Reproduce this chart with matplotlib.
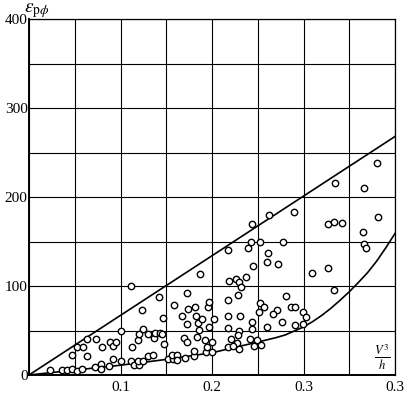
import numpy as np
import matplotlib
matplotlib.use("Agg")
import matplotlib.pyplot as plt
from matplotlib.ticker import MultipleLocator, FixedLocator

plt.rcParams['font.family'] = ['Liberation Serif', 'DejaVu Serif']
plt.rcParams['mathtext.fontset'] = 'stix'

# measured points (V^3/h, eps)
pts_x = [0.023, 0.036, 0.042, 0.047, 0.053, 0.058, 0.072, 0.079, 0.079, 0.087,
         0.047, 0.053, 0.059, 0.063, 0.063, 0.073, 0.080, 0.088, 0.092, 0.095,
         0.092, 0.101, 0.101, 0.111, 0.112, 0.113, 0.115, 0.120, 0.119, 0.125,
         0.130, 0.136, 0.119, 0.120, 0.125, 0.130, 0.137, 0.138, 0.143, 0.145,
         0.147, 0.124, 0.142, 0.146, 0.152, 0.157, 0.156, 0.162, 0.162, 0.170,
         0.180, 0.180, 0.193, 0.200, 0.195, 0.169, 0.173, 0.184, 0.192, 0.200,
         0.186, 0.197, 0.173, 0.185, 0.167, 0.182, 0.189, 0.202, 0.159, 0.174,
         0.181, 0.196, 0.197, 0.173, 0.187,
         0.218, 0.239, 0.243, 0.252, 0.244, 0.262, 0.290, 0.278, 0.261, 0.260,
         0.272, 0.245, 0.237, 0.219, 0.226, 0.230, 0.232, 0.228, 0.217, 0.281,
         0.253, 0.257, 0.251, 0.271, 0.267, 0.286, 0.291, 0.299, 0.217, 0.231,
         0.244, 0.277, 0.291, 0.299, 0.218, 0.260, 0.244, 0.229, 0.228, 0.221,
         0.242, 0.249, 0.227, 0.218, 0.223, 0.229, 0.246, 0.254,
         0.380, 0.334, 0.366, 0.381, 0.327, 0.333, 0.342, 0.365, 0.366, 0.368,
         0.309, 0.327, 0.333, 0.303]
pts_y = [6, 6, 6, 7, 4, 7, 9, 12, 7, 10,
         23, 31, 31, 40, 21, 40, 31, 37, 33, 37,
         18, 16, 50, 100, 16, 32, 11, 11, 16, 16,
         21, 23, 39, 46, 52, 46, 42, 47, 47, 46,
         35, 73, 88, 64, 18, 18, 22, 22, 17, 19,
         21, 27, 26, 26, 31, 42, 37, 43, 39, 37,
         51, 54, 57, 58, 66, 66, 63, 63, 79, 74,
         76, 76, 82, 92, 114,
         141, 143, 149, 150, 170, 180, 183, 149, 137, 127,
         125, 122, 110, 106, 108, 104, 99, 90, 84, 89,
         81, 76, 71, 73, 69, 76, 76, 71, 66, 66,
         60, 59, 56, 57, 53, 54, 52, 50, 45, 41,
         41, 39, 36, 31, 33, 29, 33, 34,
         238, 216, 210, 178, 170, 172, 171, 161, 147, 143,
         115, 120, 96, 65]

# upper bound line
upper_x = [0.0, 0.4]
upper_y = [0, 268]

# lower bound curve
lower_x = [0, 0.05, 0.1, 0.15, 0.2, 0.25, 0.27, 0.28, 0.29, 0.3, 0.31, 0.32,
           0.33, 0.34, 0.35, 0.36, 0.37, 0.38, 0.39, 0.4]
lower_y = [0, 5.5, 11, 17.5, 25, 37, 42, 45, 49.5, 54, 60, 67,
           75, 84, 93.5, 104, 115, 128, 143, 159]

xticks = [0.1, 0.2, 0.3, 0.4]
xtick_labels = ['0.1', '0.2', '0.3', '0.3']
yticks = [0, 100, 200, 300, 400]

fig = plt.figure(figsize=(4.11, 3.93), dpi=100)
ax = fig.add_axes([29 / 411, 18 / 393, 366 / 411, 356 / 393])

ax.plot(upper_x, upper_y, color='black', lw=1.2, zorder=3)
ax.plot(lower_x, lower_y, color='black', lw=1.2, zorder=3)
ax.plot(pts_x, pts_y, 'o', ms=4.6, mfc='white', mec='black', mew=1.0, zorder=4)

ax.set_xlim(0, 0.4)
ax.set_ylim(0, 400)
ax.xaxis.set_major_locator(FixedLocator(xticks))
ax.set_xticklabels(xtick_labels)
ax.yaxis.set_major_locator(FixedLocator(yticks))
ax.xaxis.set_minor_locator(MultipleLocator(0.05))
ax.yaxis.set_minor_locator(MultipleLocator(50))
ax.grid(True, which='both', color='black', lw=0.8)
ax.set_axisbelow(True)
ax.tick_params(which='both', length=0, labelsize=11)
ax.tick_params(axis='y', pad=1)
ax.tick_params(axis='x', pad=4)

for s in ['left', 'bottom']:
    ax.spines[s].set_linewidth(1.4)
for s in ['top', 'right']:
    ax.spines[s].set_linewidth(0.9)

ax.text(0.965, 0.05, r'$\frac{V^3}{h}$', transform=ax.transAxes,
        ha='center', va='center', fontsize=13)
fig.text(24 / 411, 1 - 11 / 393, r'$\varepsilon_{\mathrm{p}\phi}$',
         ha='left', va='center', fontsize=14)

fig.savefig('out.png', dpi=100)
